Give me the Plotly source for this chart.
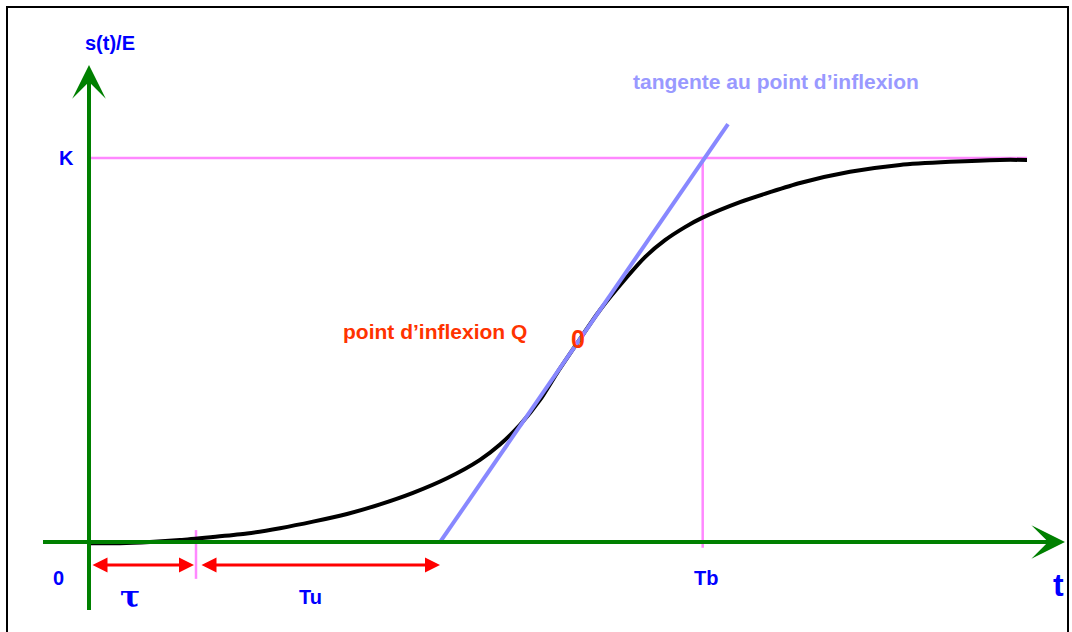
import plotly.graph_objects as go

# ---- data (t in arbitrary time units, s normalised by E, K = 1) ----
curve_t = [0, 31, 61, 91, 124, 158, 191, 224, 258, 291, 324, 358, 391, 411, 431, 451, 468, 489,
           511, 538, 556, 576, 596, 613, 651, 681, 711, 761, 811, 861, 911, 938]
curve_s = [-0.003, -0.003, 0.0, 0.005, 0.013, 0.022, 0.036, 0.053, 0.073, 0.098, 0.128, 0.166, 0.214,
           0.254, 0.305, 0.370, 0.440, 0.521, 0.604, 0.690, 0.742, 0.786, 0.820, 0.844, 0.885, 0.911,
           0.935, 0.964, 0.982, 0.990, 0.995, 0.995]

K = 1.0
infl_t, infl_s = 489, 0.521
tangent_slope = 0.00378
tangent_t = [351, 639]
tau = 107
Tu_end = 351
Tb = 613.7
t_end = 938

blue = "#0000ff"
green = "#008000"
pink = "#ff88ff"
lav = "#8888ff"
red = "#ff0000"
orange = "#ff3300"
font = "Liberation Sans"

fig = go.Figure()

# K horizontal line
fig.add_trace(go.Scatter(x=[2, t_end], y=[K, K], mode="lines",
                         line=dict(color=pink, width=2.5), hoverinfo="skip"))
# Tb vertical
fig.add_trace(go.Scatter(x=[Tb, Tb], y=[K, -0.015], mode="lines",
                         line=dict(color=pink, width=2.5), hoverinfo="skip"))
# tau tick
fig.add_trace(go.Scatter(x=[tau, tau], y=[0.031, -0.096], mode="lines",
                         line=dict(color=pink, width=2.5), hoverinfo="skip"))

# step response curve
fig.add_trace(go.Scatter(x=curve_t, y=curve_s, mode="lines",
                         line=dict(color="black", width=4, shape="spline", smoothing=0.7),
                         hoverinfo="skip"))

# tangent
tan_s = [infl_s + tangent_slope * (t - infl_t) for t in tangent_t]
fig.add_trace(go.Scatter(x=tangent_t, y=tan_s, mode="lines",
                         line=dict(color=lav, width=4), hoverinfo="skip"))

# inflection mark
fig.add_trace(go.Scatter(x=[infl_t], y=[infl_s], mode="text", text=["<b>0</b>"],
                         textfont=dict(family=font, size=25, color=orange),
                         textposition="middle center", hoverinfo="skip"))

# axes lines (drawn as lines)
fig.add_trace(go.Scatter(x=[-46, 965], y=[0, 0], mode="lines",
                         line=dict(color=green, width=4), hoverinfo="skip"))
fig.add_trace(go.Scatter(x=[0, 0], y=[-0.177, 1.225], mode="lines",
                         line=dict(color=green, width=4), hoverinfo="skip"))

ann = []
# axis arrowheads
ann.append(dict(x=976, y=0, ax=940, ay=0, xref="x", yref="y", axref="x", ayref="y",
                showarrow=True, arrowhead=3, arrowsize=1.4, arrowwidth=4, arrowcolor=green, text=""))
ann.append(dict(x=0, y=1.242, ax=0, ay=1.15, xref="x", yref="y", axref="x", ayref="y",
                showarrow=True, arrowhead=3, arrowsize=1.4, arrowwidth=4, arrowcolor=green, text=""))
# red double arrows
ann.append(dict(x=tau - 2, y=-0.06, ax=2, ay=-0.06, xref="x", yref="y", axref="x", ayref="y",
                showarrow=True, arrowhead=2, startarrowhead=2, arrowside="end+start",
                arrowsize=1.0, startarrowsize=1.0, arrowwidth=3, arrowcolor=red, text=""))
ann.append(dict(x=Tu_end, y=-0.06, ax=tau + 4, ay=-0.06, xref="x", yref="y", axref="x", ayref="y",
                showarrow=True, arrowhead=2, startarrowhead=2, arrowside="end+start",
                arrowsize=1.0, startarrowsize=1.0, arrowwidth=3, arrowcolor=red, text=""))

def label(t, s, txt, size=20, color=blue, fam=font):
    ann.append(dict(x=t, y=s, xref="x", yref="y", text=txt, showarrow=False,
                    font=dict(family=fam, size=size, color=color),
                    xanchor="center", yanchor="middle"))

label(21, 1.299, "<b>s(t)/E</b>")
label(-23, 1.0, "<b>K</b>")
label(-31, -0.094, "<b>0</b>")
label(41, -0.143, "<b>τ</b>", size=30, fam="DejaVu Serif")
label(221, -0.143, "<b>Tu</b>")
label(617, -0.094, "<b>Tb</b>")
label(969, -0.112, "<b>t</b>", size=32)
label(687, 1.2005, "<b>tangente au point d’inflexion</b>", size=21, color="#9999ff")
label(346, 0.547, "<b>point d’inflexion Q</b>", size=21, color=orange)

fig.update_layout(
    width=1072, height=632,
    margin=dict(l=0, r=0, t=0, b=0),
    paper_bgcolor="white", plot_bgcolor="white",
    showlegend=False,
    xaxis=dict(range=[-89, 983], visible=False, fixedrange=True),
    yaxis=dict(range=[-0.2344, 1.4115], visible=False, fixedrange=True),
    annotations=ann,
    shapes=[dict(type="rect", xref="paper", yref="paper",
                 x0=7 / 1072, x1=1068 / 1072, y0=-0.05, y1=1 - 7 / 632,
                 line=dict(color="black", width=2))],
)

fig.write_html("out.html", config={"displayModeBar": False},
               post_script="document.body.style.margin='0';document.body.style.overflow='hidden';")
